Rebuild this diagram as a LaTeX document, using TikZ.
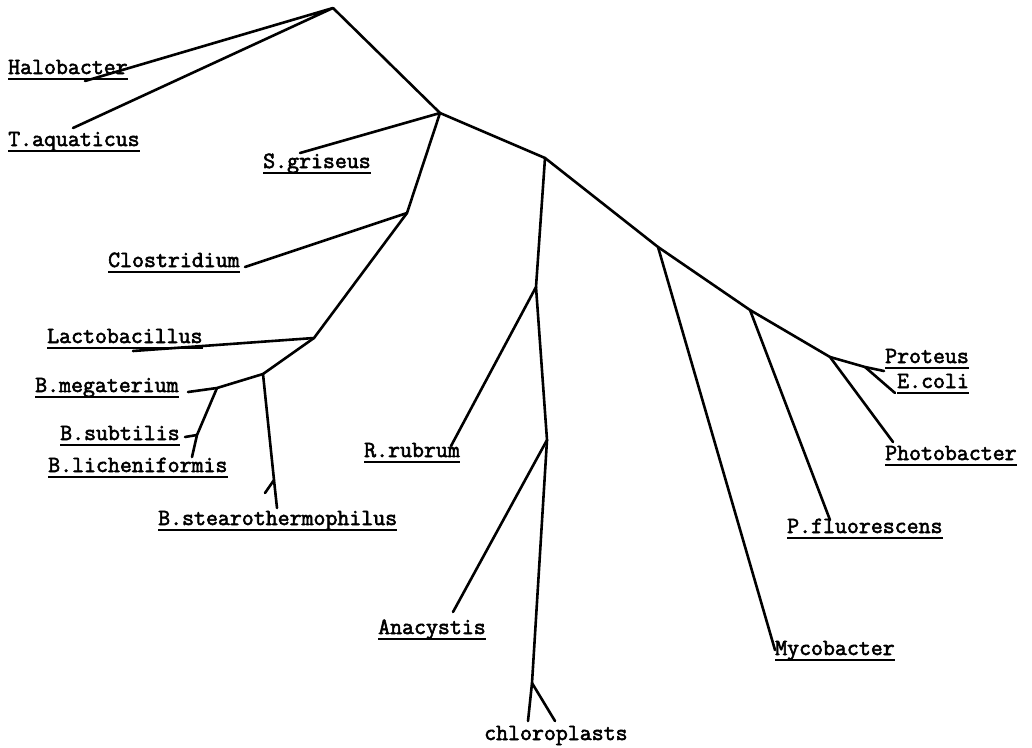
\documentclass[tikz,border=0pt]{standalone}
\usepackage{fontspec}
\newfontfamily\taxonfont{Latin Modern Mono}[FakeBold=2.5]
\usetikzlibrary{positioning}

\begin{document}
\begin{tikzpicture}[x=1pt,y=-1pt]
\tikzset{BRANCH/.style={draw,line width=2.6pt,line cap=round,line join=round}}
\tikzset{UNDERLINE/.style={draw,line width=1.8pt}}
\tikzset{PLAIN/.style={font=\taxonfont\fontsize{23.2}{26}\selectfont,anchor=base west,inner sep=0pt,text depth=5pt}}
\tikzset{TAXON/.style={PLAIN,append after command={(\tikzlastnode.south west) edge[UNDERLINE] (\tikzlastnode.south east)}}}

\useasboundingbox (0,0) rectangle (1032,747);

% inner nodes of the tree
\coordinate (root) at (333,8);
\coordinate (gram pos) at (440,113);
\coordinate (clostridia) at (407,213);
\coordinate (lacto) at (314,338);
\coordinate (bacilli) at (263,374);
\coordinate (megaterium) at (217,388);
\coordinate (subtilis) at (197,435);
\coordinate (stearo) at (274,480);
\coordinate (photo) at (545,158);
\coordinate (rubrum) at (536,287);
\coordinate (cyano) at (547,440);
\coordinate (plastid) at (532,683);
\coordinate (myco) at (658,247);
\coordinate (pseudo) at (750,310);
\coordinate (entero) at (830,357);
\coordinate (coli) at (865,367);

% leaf ends
\coordinate (halobacter end) at (85,81);
\coordinate (aquaticus end) at (73,128);
\coordinate (griseus end) at (300,153);
\coordinate (clostridium end) at (245,267);
\coordinate (lactobacillus end) at (133,351);
\coordinate (megaterium end) at (188,392);
\coordinate (subtilis end) at (185,437);
\coordinate (licheniformis end) at (192,457);
\coordinate (stearo end) at (277,508);
\coordinate (stearo tick) at (265,493);
\coordinate (rubrum end) at (451,446);
\coordinate (anacystis end) at (453,612);
\coordinate (plastid left) at (528,721);
\coordinate (plastid right) at (555,721);
\coordinate (mycobacter end) at (775,650);
\coordinate (fluorescens end) at (830,520);
\coordinate (photobacter end) at (893,442);
\coordinate (proteus end) at (884,371);
\coordinate (coli end) at (895,393);

% labels
\node[TAXON] (halobacter) at (8,74) {Halobacter};
\node[TAXON] (aquaticus) at (8,146) {T.aquaticus};
\node[TAXON] (griseus) at (263,168) {S.griseus};
\node[TAXON] (clostridium) at (108,267) {Clostridium};
\node[TAXON] (lactobacillus) at (47,343) {Lactobacillus};
\node[TAXON] (bmegaterium) at (35,392) {B.megaterium};
\node[TAXON] (bsubtilis) at (60,440) {B.subtilis};
\node[TAXON] (blicheniformis) at (48,472) {B.licheniformis};
\node[TAXON] (bstearo) at (158,525) {B.stearothermophilus};
\node[TAXON] (rrubrum) at (364,457) {R.rubrum};
\node[TAXON] (anacystis) at (378,634) {Anacystis};
\node[PLAIN] (chloroplasts) at (484,740) {chloroplasts};
\node[TAXON] (mycobacter) at (775,655) {Mycobacter};
\node[TAXON] (fluorescens) at (787,533) {P.fluorescens};
\node[TAXON] (photobacter) at (885,460) {Photobacter};
\node[TAXON] (proteus) at (885,363) {Proteus};
\node[TAXON] (ecoli) at (897,388) {E.coli};

% branches
\path [BRANCH] (halobacter end) -- (root) -- (aquaticus end);
\path [BRANCH] (root) -- (gram pos) -- (photo);
\path [BRANCH] (griseus end) -- (gram pos) -- (clostridia) -- (clostridium end);
\path [BRANCH] (clostridia) -- (lacto) -- (lactobacillus end);
\path [BRANCH] (lacto) -- (bacilli) -- (megaterium) -- (megaterium end);
\path [BRANCH] (megaterium) -- (subtilis) -- (licheniformis end);
\path [BRANCH] (subtilis) -- (subtilis end);
\path [BRANCH] (bacilli) -- (stearo) -- (stearo end);
\path [BRANCH] (stearo) -- (stearo tick);

\path [BRANCH] (photo) -- (rubrum) -- (rubrum end);
\path [BRANCH] (rubrum) -- (cyano) -- (anacystis end);
\path [BRANCH] (cyano) -- (plastid) -- (plastid left);
\path [BRANCH] (plastid) -- (plastid right);

\path [BRANCH] (photo) -- (myco) -- (mycobacter end);
\path [BRANCH] (myco) -- (pseudo) -- (fluorescens end);
\path [BRANCH] (pseudo) -- (entero) -- (photobacter end);
\path [BRANCH] (entero) -- (coli) -- (proteus end);
\path [BRANCH] (coli) -- (coli end);

\end{tikzpicture}
\end{document}
